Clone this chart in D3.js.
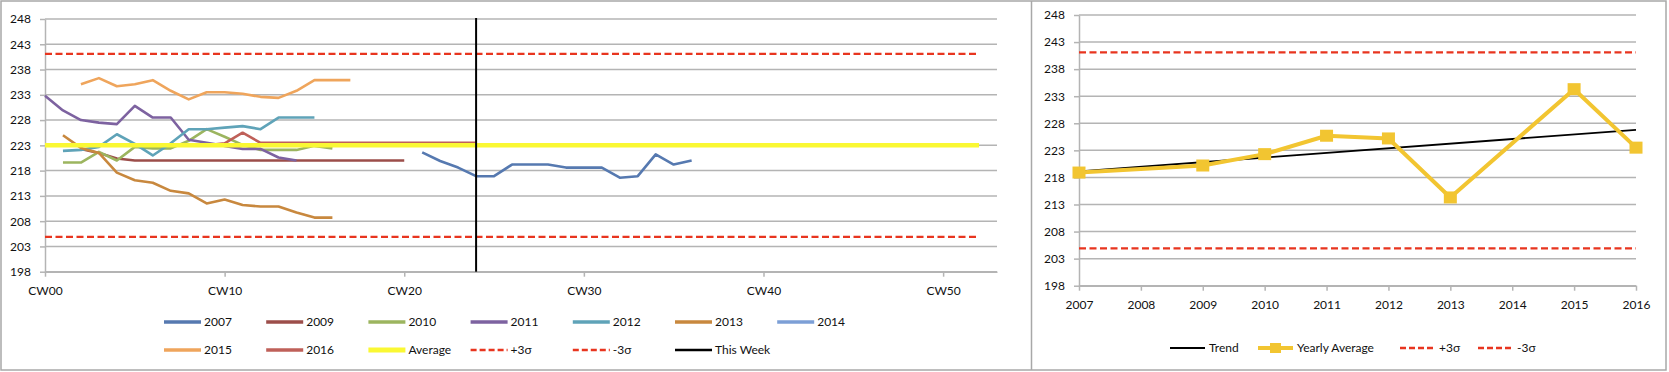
<!DOCTYPE html>
<html>
<head>
<meta charset="utf-8">
<script src="https://cdn.jsdelivr.net/npm/d3@7"></script>
<style>
  body { margin: 0; background: #fff; }
  text { font-family: Lato, "Open Sans", sans-serif; fill: #111; }
</style>
</head>
<body>
<div id="chart"></div>
<script>
// ---- data (left: weekly values, right: yearly averages) ----
var weekTicks = [0, 10, 20, 30, 40, 50];
var weekTickLabels = ["CW00", "CW10", "CW20", "CW30", "CW40", "CW50"];
var yTicks = [198, 203, 208, 213, 218, 223, 228, 233, 238, 243, 248];

var start2007 = 21;
var y2007 = [221.6, 219.9, 218.6, 216.9, 216.9, 219.2, 219.2, 219.2, 218.6, 218.6, 218.6, 216.6, 216.9, 221.2, 219.2, 220.0];
var start2009 = 2;
var y2009 = [222.3, 221.5, 220.4, 220.0, 220.0, 220.0, 220.0, 220.0, 220.0, 220.0, 220.0, 220.0, 220.0, 220.0, 220.0, 220.0, 220.0, 220.0, 220.0];
var start2010 = 1;
var y2010 = [219.6, 219.6, 221.7, 220.0, 222.7, 222.4, 222.4, 223.9, 226.2, 224.7, 223.1, 222.1, 222.1, 222.1, 222.9, 222.4];
var start2011 = 0;
var y2011 = [232.8, 229.9, 228.0, 227.5, 227.2, 230.8, 228.5, 228.5, 224.1, 223.5, 222.9, 222.3, 222.3, 220.6, 220.0];
var start2012 = 1;
var y2012 = [221.9, 222.1, 222.7, 225.2, 223.3, 221.0, 223.4, 226.2, 226.2, 226.5, 226.8, 226.2, 228.5, 228.5, 228.5];
var start2013 = 1;
var y2013 = [225.0, 222.5, 221.5, 217.6, 216.1, 215.6, 214.0, 213.5, 211.5, 212.3, 211.2, 210.9, 210.9, 209.7, 208.7, 208.7];
var start2014 = 0;
var y2014 = [];
var start2015 = 2;
var y2015 = [235.1, 236.3, 234.7, 235.1, 235.9, 233.8, 232.1, 233.5, 233.5, 233.2, 232.6, 232.4, 233.8, 235.9, 235.9, 235.9];
var start2016 = 9;
var y2016 = [223.0, 223.4, 225.5, 223.5, 223.5, 223.5, 223.5, 223.5, 223.5, 223.5, 223.5, 223.5, 223.5, 223.5, 223.5, 223.5];

var averageValue = 223.0;
var plusSigma = 241.1;
var minusSigma = 204.9;
var refWeeks = [0, 52];
var thisWeek = 24;

var years = [2007, 2008, 2009, 2010, 2011, 2012, 2013, 2014, 2015, 2016];
var yearlyAverage = [218.9, null, 220.2, 222.3, 225.7, 225.2, 214.3, null, 234.3, 223.5];
var trendYears = [2007, 2016];
var trendValues = [219.1, 226.8];

var seriesNames = ["2007", "2009", "2010", "2011", "2012", "2013", "2014", "2015", "2016"];
var seriesColors = ["#5679B0", "#9C4E4A", "#9CB55F", "#7D62A0", "#5FA3B8", "#C8883E", "#7C9FD6", "#EFA55C", "#BF6059"];
var seriesStarts = [start2007, start2009, start2010, start2011, start2012, start2013, start2014, start2015, start2016];
var seriesValues = [y2007, y2009, y2010, y2011, y2012, y2013, y2014, y2015, y2016];

var yellow = "#FAF833",
    sigmaRed = "#E8351F",
    gold = "#F2C531",
    gridGray = "#b4b4b4";

var svg = d3.select("#chart").append("svg")
    .attr("width", 1669)
    .attr("height", 372);

// frames
svg.append("rect")
    .attr("x", 1).attr("y", 1).attr("width", 1665).attr("height", 369)
    .attr("fill", "none").attr("stroke", "#a8a8a8").attr("stroke-width", 1.5);
svg.append("line")
    .attr("x1", 1031.5).attr("x2", 1031.5).attr("y1", 1).attr("y2", 370)
    .attr("stroke", "#a8a8a8").attr("stroke-width", 1.5);

function styleAxis(g) {
    g.selectAll("path").attr("stroke", gridGray).attr("stroke-width", 1.5);
    g.selectAll("line").attr("stroke", gridGray).attr("stroke-width", 1.5);
    g.selectAll("text").attr("fill", "#111").style("font-size", "12px")
        .style("font-family", "Lato, 'Open Sans', sans-serif");
}

//********** LEFT CHART ************
var xL = d3.scaleLinear().domain([0, 53]).range([45, 997]);
var yL = d3.scaleLinear().domain([198, 248]).range([271.7, 19]);

svg.append("g").selectAll("line")
    .data(yTicks)
    .enter().append("line")
        .attr("x1", xL(0)).attr("x2", xL(53))
        .attr("y1", d => yL(d)).attr("y2", d => yL(d))
        .attr("stroke", gridGray).attr("stroke-width", 1.5);

svg.append("g")
    .attr("transform", "translate(" + xL(0) + ",0)")
    .call(d3.axisLeft(yL).tickValues(yTicks).tickSize(5).tickSizeOuter(0).tickPadding(9))
    .call(styleAxis);

svg.append("g")
    .attr("transform", "translate(0," + yL(198) + ")")
    .call(d3.axisBottom(xL).tickValues(weekTicks).tickSize(5).tickSizeOuter(0).tickPadding(10)
        .tickFormat(function(d, i) { return weekTickLabels[i]; }))
    .call(styleAxis);

var lineL = d3.line()
    .x(d => xL(d[0]))
    .y(d => yL(d[1]));

seriesNames.forEach(function(name, k) {
    var pts = seriesValues[k].map(function(v, i) { return [seriesStarts[k] + i, v]; });
    if (pts.length == 0) return;
    svg.append("path")
        .attr("d", lineL(pts))
        .attr("fill", "none")
        .attr("stroke", seriesColors[k])
        .attr("stroke-width", 2.6)
        .attr("stroke-linejoin", "round");
});

svg.append("path")
    .attr("d", lineL(refWeeks.map(w => [w, averageValue])))
    .attr("stroke", yellow).attr("stroke-width", 4.5).attr("fill", "none");

[plusSigma, minusSigma].forEach(function(v) {
    svg.append("path")
        .attr("d", lineL(refWeeks.map(w => [w, v])))
        .attr("stroke", sigmaRed).attr("stroke-width", 2.4)
        .attr("stroke-dasharray", "7,3.5").attr("fill", "none");
});

svg.append("line")
    .attr("x1", xL(thisWeek)).attr("x2", xL(thisWeek))
    .attr("y1", yL(248) - 1).attr("y2", yL(198))
    .attr("stroke", "#000").attr("stroke-width", 2);

// legend
var legendItems = seriesNames.map(function(n, k) { return {name: n, color: seriesColors[k], w: 3.5, dash: null}; })
    .concat([
        {name: "Average", color: yellow, w: 5, dash: null},
        {name: "+3σ", color: sigmaRed, w: 2.5, dash: "6,3"},
        {name: "-3σ", color: sigmaRed, w: 2.5, dash: "6,3"},
        {name: "This Week", color: "#000", w: 2.5, dash: null}
    ]);

var legend = svg.selectAll(".legend")
    .data(legendItems)
    .enter().append("g")
    .attr("class", "legend")
    .attr("transform", function(d, i) {
        return "translate(" + (164 + (i % 7) * 102.2) + "," + (i < 7 ? 322 : 350) + ")";
    });

legend.append("line")
    .attr("x1", 0).attr("x2", 37)
    .attr("stroke", d => d.color)
    .attr("stroke-width", d => d.w)
    .attr("stroke-dasharray", d => d.dash);

legend.append("text")
    .attr("x", 40)
    .attr("dy", "0.35em")
    .style("font-size", "12px")
    .text(d => d.name);

//********** RIGHT CHART ************
var xR = d3.scaleLinear().domain([2007, 2016]).range([1079, 1636]);
var yR = d3.scaleLinear().domain([198, 248]).range([285.7, 15]);

svg.append("g").selectAll("line")
    .data(yTicks)
    .enter().append("line")
        .attr("x1", xR(2007)).attr("x2", xR(2016))
        .attr("y1", d => yR(d)).attr("y2", d => yR(d))
        .attr("stroke", gridGray).attr("stroke-width", 1.5);

svg.append("g")
    .attr("transform", "translate(" + xR(2007) + ",0)")
    .call(d3.axisLeft(yR).tickValues(yTicks).tickSize(5).tickSizeOuter(0).tickPadding(9))
    .call(styleAxis);

svg.append("g")
    .attr("transform", "translate(0," + yR(198) + ")")
    .call(d3.axisBottom(xR).tickValues(years).tickSize(5).tickSizeOuter(0).tickPadding(10)
        .tickFormat(d3.format("d")))
    .call(styleAxis);

var lineR = d3.line()
    .x(d => xR(d[0]))
    .y(d => yR(d[1]));

svg.append("path")
    .attr("d", lineR(trendYears.map((y, i) => [y, trendValues[i]])))
    .attr("stroke", "#000").attr("stroke-width", 1.8).attr("fill", "none");

var avgPts = years.map((y, i) => [y, yearlyAverage[i]]).filter(d => d[1] != null);

svg.append("path")
    .attr("d", lineR(avgPts))
    .attr("stroke", gold).attr("stroke-width", 4).attr("fill", "none")
    .attr("stroke-linejoin", "round");

svg.append("g").selectAll("rect")
    .data(avgPts)
    .enter().append("rect")
        .attr("x", d => xR(d[0]) - 6.5)
        .attr("y", d => yR(d[1]) - 6)
        .attr("width", 13).attr("height", 12)
        .attr("fill", gold);

[plusSigma, minusSigma].forEach(function(v) {
    svg.append("path")
        .attr("d", lineR(trendYears.map(y => [y, v])))
        .attr("stroke", sigmaRed).attr("stroke-width", 2.4)
        .attr("stroke-dasharray", "7,3.5").attr("fill", "none");
});

var legendR = [
    {name: "Trend", x: 1170, color: "#000", w: 2, dash: null, marker: false},
    {name: "Yearly Average", x: 1258, color: gold, w: 4, dash: null, marker: true},
    {name: "+3σ", x: 1400, color: sigmaRed, w: 2.5, dash: "6,3", marker: false},
    {name: "-3σ", x: 1478, color: sigmaRed, w: 2.5, dash: "6,3", marker: false}
];

var lr = svg.selectAll(".legendR")
    .data(legendR)
    .enter().append("g")
    .attr("class", "legendR")
    .attr("transform", d => "translate(" + d.x + ",348)");

lr.append("line")
    .attr("x1", 0).attr("x2", 35)
    .attr("stroke", d => d.color)
    .attr("stroke-width", d => d.w)
    .attr("stroke-dasharray", d => d.dash);

lr.filter(d => d.marker).append("rect")
    .attr("x", 12).attr("y", -5).attr("width", 11).attr("height", 10)
    .attr("fill", gold);

lr.append("text")
    .attr("x", 39)
    .attr("dy", "0.35em")
    .style("font-size", "12px")
    .text(d => d.name);
</script>
</body>
</html>
